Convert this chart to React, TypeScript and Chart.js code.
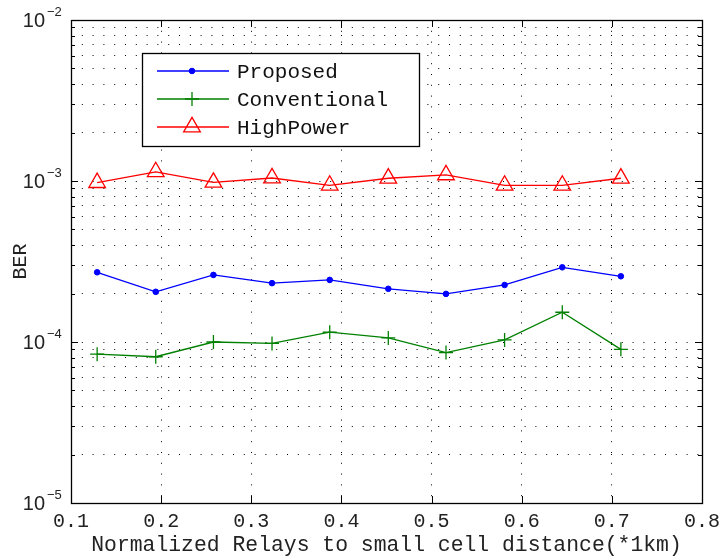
import React, { useEffect, useRef } from 'react';
import { Chart, registerables } from 'chart.js';
import { drawPoint } from 'chart.js/helpers';

Chart.register(...registerables);

// ---- data ----
const distances = [0.129, 0.194, 0.258, 0.323, 0.387, 0.452, 0.516, 0.581, 0.645, 0.71];
const proposed = [2.71e-4, 2.05e-4, 2.61e-4, 2.32e-4, 2.43e-4, 2.14e-4, 1.99e-4, 2.26e-4, 2.91e-4, 2.56e-4];
const conventional = [8.4e-5, 8.1e-5, 1.0e-4, 9.8e-5, 1.15e-4, 1.06e-4, 8.6e-5, 1.03e-4, 1.53e-4, 9.0e-5];
const highPower = [0.976e-3, 1.14e-3, 0.98e-3, 1.044e-3, 0.94e-3, 1.04e-3, 1.09e-3, 0.94e-3, 0.94e-3, 1.04e-3];
const seriesNames = ['Proposed', 'Conventional', 'HighPower'];
const xTickValues = [0.1, 0.2, 0.3, 0.4, 0.5, 0.6, 0.7, 0.8];
const yDecadeExponents = [-5, -4, -3, -2];
const yMinorMultipliers = [1, 2, 3, 4, 5, 6, 7, 8, 9];
const xTitle = 'Normalized Relays to small cell distance(*1km)';
const yTitle = 'BER';

const MONO = '"Liberation Mono", "DejaVu Sans Mono", monospace';
const SANS = '"Liberation Sans", Arial, sans-serif';

const decorPlugin = {
  id: 'decor',
  afterDraw(chart: any) {
    const { ctx, chartArea: a, scales } = chart;
    const xs = scales.x;
    const ys = scales.y;
    ctx.save();
    ctx.strokeStyle = '#000';
    ctx.lineWidth = 1;
    const line = (x1: number, y1: number, x2: number, y2: number) => {
      ctx.beginPath();
      ctx.moveTo(x1, y1);
      ctx.lineTo(x2, y2);
      ctx.stroke();
    };
    // inward ticks on y (left and right)
    ys.ticks.forEach((t: any) => {
      const lg = Math.log10(t.value);
      const major = Math.abs(lg - Math.round(lg)) < 1e-6;
      const y = Math.round(ys.getPixelForValue(t.value)) + 0.5;
      const len = major ? 7 : 4;
      line(a.left, y, a.left + len, y);
      line(a.right, y, a.right - len, y);
    });
    // inward ticks on x (bottom and top)
    xs.ticks.forEach((t: any) => {
      const x = Math.round(xs.getPixelForValue(t.value)) + 0.5;
      line(x, a.bottom, x, a.bottom - 7);
      line(x, a.top, x, a.top + 7);
    });
    // box
    ctx.lineWidth = 1.3;
    ctx.strokeRect(Math.round(a.left) + 0.5, Math.round(a.top) + 0.5, Math.round(a.right - a.left), Math.round(a.bottom - a.top));

    // y tick labels 10^e
    ctx.fillStyle = '#222';
    yDecadeExponents.forEach((e) => {
      const y = ys.getPixelForValue(Math.pow(10, e));
      ctx.font = `20px ${SANS}`;
      ctx.textAlign = 'right';
      ctx.textBaseline = 'alphabetic';
      ctx.fillText('10', 45, y + 7);
      ctx.font = `13px ${SANS}`;
      ctx.textAlign = 'left';
      ctx.fillText('\u2212' + Math.abs(e), 47, y - 4);
    });

    // legend
    const lx = 142, ly = 53, lw = 277, lh = 93;
    ctx.fillStyle = '#fff';
    ctx.fillRect(lx, ly, lw, lh);
    ctx.lineWidth = 1.3;
    ctx.strokeStyle = '#000';
    ctx.strokeRect(lx + 0.5, ly + 0.5, lw, lh);
    const rowYs = [71, 99, 127];
    chart.data.datasets.forEach((ds: any, i: number) => {
      const y = rowYs[i];
      ctx.strokeStyle = ds.borderColor;
      ctx.lineWidth = ds.borderWidth;
      line(157, y, 229, y);
      ctx.strokeStyle = ds.pointBorderColor;
      ctx.fillStyle = ds.pointBackgroundColor;
      ctx.lineWidth = ds.pointBorderWidth;
      drawPoint(ctx, { pointStyle: ds.pointStyle, radius: ds.pointRadius, rotation: 0, borderWidth: ds.pointBorderWidth }, 192, y);
      ctx.fillStyle = '#111';
      ctx.font = `21px ${MONO}`;
      ctx.textAlign = 'left';
      ctx.textBaseline = 'middle';
      ctx.fillText(ds.label, 237, y + 1);
    });
    ctx.restore();
  },
};

export default function App() {
  const ref = useRef<HTMLCanvasElement | null>(null);
  useEffect(() => {
    if (!ref.current) return;
    const mk = (vals: number[]) => distances.map((x, i) => ({ x, y: vals[i] }));
    const chart = new Chart(ref.current, {
      type: 'line',
      data: {
        datasets: [
          {
            label: seriesNames[0],
            data: mk(proposed),
            borderColor: '#0000ff',
            borderWidth: 1.3,
            pointStyle: 'circle',
            pointRadius: 2.8,
            pointBackgroundColor: '#0000ff',
            pointBorderColor: '#0000ff',
            pointBorderWidth: 1,
            tension: 0,
          },
          {
            label: seriesNames[1],
            data: mk(conventional),
            borderColor: '#008000',
            borderWidth: 1.3,
            pointStyle: 'cross',
            pointRadius: 7,
            pointBackgroundColor: '#008000',
            pointBorderColor: '#008000',
            pointBorderWidth: 1.3,
            tension: 0,
          },
          {
            label: seriesNames[2],
            data: mk(highPower),
            borderColor: '#ff0000',
            borderWidth: 1.3,
            pointStyle: 'triangle',
            pointRadius: 9.6,
            pointBackgroundColor: 'rgba(0,0,0,0)',
            pointBorderColor: '#ff0000',
            pointBorderWidth: 1.3,
            tension: 0,
          },
        ],
      },
      options: {
        animation: false,
        responsive: false,
        devicePixelRatio: 1,
        layout: { padding: { left: 0, top: 20, right: 19, bottom: 0 } },
        plugins: { legend: { display: false }, tooltip: { enabled: false } },
        scales: {
          x: {
            type: 'linear',
            min: 0.1,
            max: 0.8,
            afterBuildTicks: (s: any) => {
              s.ticks = xTickValues.map((v) => ({ value: v }));
            },
            afterFit: (s: any) => {
              s.height = 56;
              s.paddingLeft = 0;
              s.paddingRight = 0;
            },
            ticks: {
              color: '#222',
              font: { family: MONO, size: 20 },
              padding: 7,
              maxRotation: 0,
              autoSkip: false,
              callback: (v: any) => Number(v).toFixed(1),
            },
            grid: { color: '#000', lineWidth: 1, drawTicks: false },
            border: { display: false, dash: [1, 9.8] },
            title: {
              display: true,
              text: xTitle,
              color: '#222',
              font: { family: MONO, size: 21.4 },
              padding: { top: 0, bottom: 1 },
            },
          },
          y: {
            type: 'logarithmic',
            min: 1e-5,
            max: 1e-2,
            afterBuildTicks: (s: any) => {
              const t: { value: number }[] = [];
              yDecadeExponents.forEach((e) => {
                if (e === -2) {
                  t.push({ value: Math.pow(10, e) });
                } else {
                  yMinorMultipliers.forEach((m) => t.push({ value: m * Math.pow(10, e) }));
                }
              });
              s.ticks = t;
            },
            afterFit: (s: any) => {
              s.width = 71;
              s.paddingTop = 0;
              s.paddingBottom = 0;
            },
            ticks: { display: false },
            grid: { color: '#000', lineWidth: 1, drawTicks: false },
            border: { display: false, dash: [1, 9.8] },
            title: {
              display: true,
              text: yTitle,
              color: '#222',
              font: { family: MONO, size: 20 },
              padding: { top: 9, bottom: 0 },
            },
          },
        },
      },
      plugins: [decorPlugin],
    });
    return () => chart.destroy();
  }, []);
  return (
    <div style={{ position: 'absolute', left: 0, top: 0, width: 721, height: 559, background: '#fff' }}>
      <canvas ref={ref} width={721} height={559} style={{ display: 'block' }} />
    </div>
  );
}
